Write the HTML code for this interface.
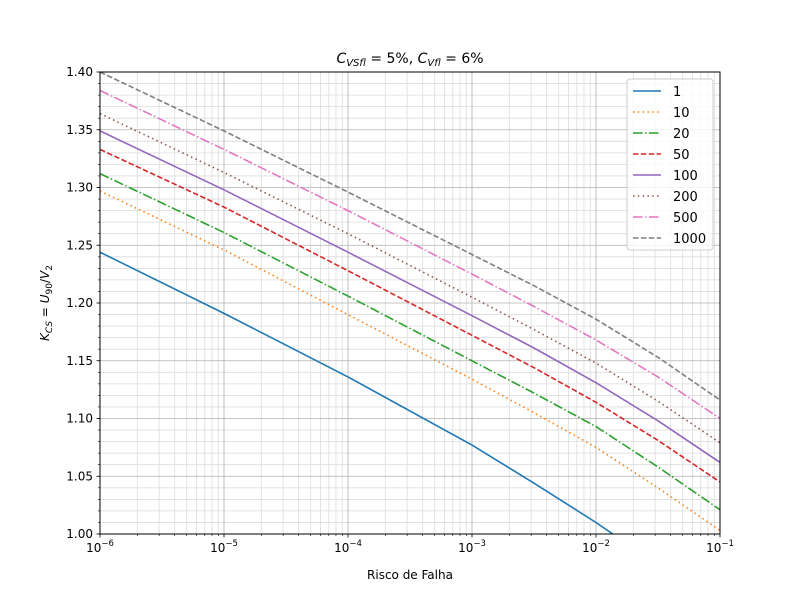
<!DOCTYPE html>
<html><head><meta charset="utf-8"><style>
body{margin:0;background:#fff}
svg text{font-family:"DejaVu Sans","Liberation Sans",sans-serif;fill:#000}
</style></head><body>
<svg id="chart" width="800" height="600" xmlns="http://www.w3.org/2000/svg">
<defs><clipPath id="clip"><rect x="100" y="72" width="620" height="462"/></clipPath></defs>
<g id="grid"></g>
<g id="series" clip-path="url(#clip)"></g>
<rect x="100" y="72" width="620" height="462" fill="none" stroke="#000" stroke-width="1"/>
<g id="axes"></g>
<text x="410" y="63" text-anchor="middle" font-size="14"><tspan font-style="italic">C</tspan><tspan font-style="italic" font-size="10" dy="3">VSfl</tspan><tspan dy="-3"> = 5%, </tspan><tspan font-style="italic">C</tspan><tspan font-style="italic" font-size="10" dy="3">Vfl</tspan><tspan dy="-3"> = 6%</tspan></text>
<text x="410" y="579" text-anchor="middle" font-size="12">Risco de Falha</text>
<text transform="translate(49,303) rotate(-90)" text-anchor="middle" font-size="12"><tspan font-style="italic">K</tspan><tspan font-style="italic" font-size="9" dy="3">CS</tspan><tspan dy="-3"> = </tspan><tspan font-style="italic">U</tspan><tspan font-size="9" dy="3">90</tspan><tspan dy="-3">/</tspan><tspan font-style="italic">V</tspan><tspan font-size="9" dy="3">2</tspan></text>
<g id="legend"></g>
</svg>
<script>
const xExp = [-6, -5, -4, -3, -2.5, -2, -1.5, -1];
const seriesNames = ["1","10","20","50","100","200","500","1000"];
const s1    = [1.244, 1.191, 1.136, 1.077, 1.044, 1.010, 0.973, 0.935];
const s10   = [1.297, 1.246, 1.190, 1.134, 1.105, 1.075, 1.040, 1.003];
const s20   = [1.312, 1.261, 1.206, 1.150, 1.122, 1.093, 1.058, 1.021];
const s50   = [1.333, 1.283, 1.228, 1.172, 1.144, 1.114, 1.081, 1.045];
const s100  = [1.349, 1.298, 1.244, 1.189, 1.161, 1.131, 1.098, 1.062];
const s200  = [1.364, 1.313, 1.260, 1.205, 1.177, 1.148, 1.115, 1.079];
const s500  = [1.384, 1.333, 1.280, 1.225, 1.197, 1.168, 1.136, 1.100];
const s1000 = [1.400, 1.349, 1.296, 1.242, 1.215, 1.186, 1.153, 1.116];
const yTicks = ["1.00","1.05","1.10","1.15","1.20","1.25","1.30","1.35","1.40"];
const xTickExp = [-6,-5,-4,-3,-2,-1];

const allSeries=[s1,s10,s20,s50,s100,s200,s500,s1000];
const colors=["#1f77b4","#ff7f0e","#2ca02c","#d62728","#9467bd","#8c564b","#e377c2","#7f7f7f"];
const dashes=["","1.5,3.3","9.6,2.4,1.5,2.4","5.5,2.4","","1.5,3.3","9.6,2.4,1.5,2.4","5.5,2.4"];
const X0=100,X1=720,Y0=534,Y1=72;
const xs=e=>X0+(e+6)/5*(X1-X0);
const ys=v=>Y0-(v-1.0)/0.4*(Y0-Y1);
const NS="http://www.w3.org/2000/svg";
function mk(t,a,p){const el=document.createElementNS(NS,t);for(const k in a)el.setAttribute(k,a[k]);p.appendChild(el);return el;}
const grid=document.getElementById('grid'),axes=document.getElementById('axes');
for(let d=-6;d<-1;d++)for(let m=2;m<10;m++){const x=xs(d+Math.log10(m));
 const l=mk('line',{x1:x,x2:x,y1:Y1,y2:Y0,stroke:'#dcdcdc','stroke-width':0.8},grid);
 
 const t=mk('line',{x1:x,x2:x,y1:Y0,y2:Y0+2,stroke:'#000','stroke-width':0.6},axes);
 }
for(let i=0;i<=40;i++){const y=ys(1+i*0.01);
 if(i%5){const l=mk('line',{x1:X0,x2:X1,y1:y,y2:y,stroke:'#dcdcdc','stroke-width':0.8},grid);
 }
 const t=mk('line',{x1:X0-2,x2:X0,y1:y,y2:y,stroke:'#000','stroke-width':0.6},axes);
 }
xTickExp.forEach(e=>{const x=xs(e);
 const l=mk('line',{x1:x,x2:x,y1:Y1,y2:Y0,stroke:'#b0b0b0','stroke-width':0.8},grid);
 
 const t=mk('line',{x1:x,x2:x,y1:Y0,y2:Y0+3.5,stroke:'#000','stroke-width':0.8},axes);
 
 const tx=mk('text',{x:x,y:Y0+18,'text-anchor':'middle','font-size':12},axes);
 
 tx.innerHTML='10<tspan font-size="8.5" dy="-6">\u2212'+Math.abs(e)+'</tspan>';});
yTicks.forEach(s=>{const y=ys(parseFloat(s));
 const l=mk('line',{x1:X0,x2:X1,y1:y,y2:y,stroke:'#b0b0b0','stroke-width':0.8},grid);
 
 const t=mk('line',{x1:X0-3.5,x2:X0,y1:y,y2:y,stroke:'#000','stroke-width':0.8},axes);
 
 const tx=mk('text',{x:X0-7,y:y+4,'text-anchor':'end','font-size':12},axes);
 
 tx.textContent=s;});
const sg=document.getElementById('series');
allSeries.forEach((vals,i)=>{
 const pts=vals.map((v,j)=>xs(xExp[j]).toFixed(1)+','+ys(v).toFixed(1)).join(' ');
 const p=mk('polyline',{points:pts,fill:'none',stroke:colors[i],'stroke-width':1.6,'stroke-linejoin':'round'},sg);
 if(dashes[i])p.setAttribute('stroke-dasharray',dashes[i]);
 
 });
const lg=document.getElementById('legend');
const bx=mk('rect',{x:627,y:79,width:86,height:171,rx:3,fill:'#fff','fill-opacity':0.8,stroke:'#ccc'},lg);

seriesNames.forEach((n,i)=>{const y=91+i*21;
 const l=mk('line',{x1:633,x2:661,y1:y,y2:y,stroke:colors[i],'stroke-width':1.6},lg);
 if(dashes[i])l.setAttribute('stroke-dasharray',dashes[i]);
 
 const t=mk('text',{x:673,y:y+5,'font-size':13},lg);
 
 t.textContent=n;});
</script>
</body></html>
